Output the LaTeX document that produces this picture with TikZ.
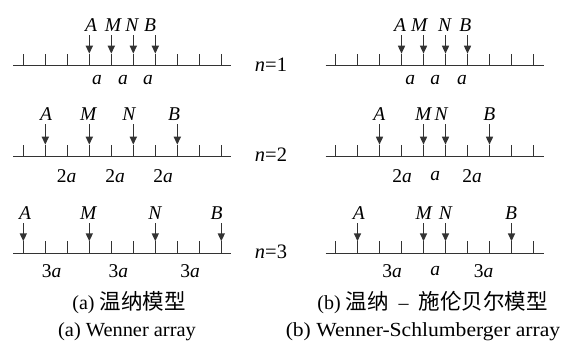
\documentclass[tikz,border=0pt]{standalone}
\usepackage{fontspec}
\setmainfont{Liberation Serif}
\newfontfamily\cjk{Noto Sans CJK SC}
\usetikzlibrary{arrows.meta}
\newcommand\gridrow[3]{%
  \coordinate (#1-L) at ({#2-10},#3);
  \coordinate (#1-R) at ({#2+208},#3);
  \draw[gline] (#1-L) -- (#1-R);
  \foreach \i in {0,...,9}{
    \coordinate (#1-\i) at ({#2+22*\i},#3);
    \coordinate (#1-t\i) at ({#2+22*\i},{#3-12});
    \draw[gline] (#1-\i) -- (#1-t\i);
  }%
}
\newcommand\elec[6]{%
  \node[elab] (#1) at (#5,#6) {#4};
  \pgfmathsetmacro\elecy{#6+10}%
  \coordinate (#1-s) at (#2-#3 |- 0,\elecy);
  \draw[earrow] (#1-s) -- (#2-t#3);
}
\begin{document}
\begin{tikzpicture}[x=1pt,y=-1pt,
  gline/.style={draw=black!80, line width=1.5pt},
  elab/.style={font=\fontsize{19.5}{20}\selectfont\itshape, inner sep=0pt},
  dlab/.style={font=\fontsize{19.5}{20}\selectfont, inner sep=0pt},
  nlab/.style={font=\fontsize{20.5}{21}\selectfont, inner sep=0pt},
  captxt/.style={font=\fontsize{20}{24}\selectfont, inner sep=0pt, anchor=base},
  earrow/.style={gline, -{Triangle[length=8pt,width=7pt]}}
]
\useasboundingbox (0,0) rectangle (564,343);
% left panel
\gridrow{La}{23.3}{65.7}
\gridrow{Lb}{23.3}{156.7}
\gridrow{Lc}{23.3}{253.3}
% right panel
\gridrow{Ra}{335.5}{65.7}
\gridrow{Rb}{335.5}{156.7}
\gridrow{Rc}{335.5}{253.3}
% electrodes, left
\elec{LaA}{La}{3}{A}{91}{25}
\elec{LaM}{La}{4}{M}{113}{25}
\elec{LaN}{La}{5}{N}{132}{25}
\elec{LaB}{La}{6}{B}{150}{25}
\elec{LbA}{Lb}{1}{A}{46}{114}
\elec{LbM}{Lb}{3}{M}{88.3}{114}
\elec{LbN}{Lb}{5}{N}{129}{114}
\elec{LbB}{Lb}{7}{B}{174}{114}
\elec{LcA}{Lc}{0}{A}{25}{213}
\elec{LcM}{Lc}{3}{M}{88.3}{213}
\elec{LcN}{Lc}{6}{N}{155}{213}
\elec{LcB}{Lc}{9}{B}{216.7}{213}
% electrodes, right
\elec{RaA}{Ra}{3}{A}{400}{25}
\elec{RaM}{Ra}{4}{M}{419.3}{25}
\elec{RaN}{Ra}{5}{N}{444.7}{25}
\elec{RaB}{Ra}{6}{B}{465.3}{25}
\elec{RbA}{Rb}{2}{A}{379.3}{114}
\elec{RbM}{Rb}{4}{M}{423.3}{114}
\elec{RbN}{Rb}{5}{N}{441}{114}
\elec{RbB}{Rb}{7}{B}{489.3}{114}
\elec{RcA}{Rc}{1}{A}{358.7}{213}
\elec{RcM}{Rc}{4}{M}{423.7}{213}
\elec{RcN}{Rc}{5}{N}{445.3}{213}
\elec{RcB}{Rc}{8}{B}{511}{213}
% spacing labels, left
\node[dlab] (la1) at (97,80) {\textit{a}};
\node[dlab] (la2) at (123,80) {\textit{a}};
\node[dlab] (la3) at (148,80) {\textit{a}};
\node[dlab] (lb1) at (66.7,176) {2\textit{a}};
\node[dlab] (lb2) at (115,176) {2\textit{a}};
\node[dlab] (lb3) at (163,176) {2\textit{a}};
\node[dlab] (lc1) at (51.7,271) {3\textit{a}};
\node[dlab] (lc2) at (118.3,271) {3\textit{a}};
\node[dlab] (lc3) at (190,271) {3\textit{a}};
% spacing labels, right
\node[dlab] (ra1) at (410.3,80) {\textit{a}};
\node[dlab] (ra2) at (435.3,80) {\textit{a}};
\node[dlab] (ra3) at (462,80) {\textit{a}};
\node[dlab] (rb1) at (402,176) {2\textit{a}};
\node[dlab] (rb2) at (435.3,176) {\textit{a}};
\node[dlab] (rb3) at (472,176) {2\textit{a}};
\node[dlab] (rc1) at (392,271) {3\textit{a}};
\node[dlab] (rc2) at (435.3,271) {\textit{a}};
\node[dlab] (rc3) at (483.7,271) {3\textit{a}};
% n labels
\node[nlab] (n1) at (271,65) {\textit{n}=1};
\node[nlab] (n2) at (271,155) {\textit{n}=2};
\node[nlab] (n3) at (271,252) {\textit{n}=3};
% captions
\node[captxt] (capaz) at (129,309) {(a) {\cjk\fontsize{21.5}{24}\selectfont 温纳模型}};
\node[captxt] (capae) at (127,336) {\scalebox{1.02}[1]{(a) Wenner array}};
\node[captxt] (capbz) at (432.5,309) {(b) {\cjk\fontsize{21.5}{24}\selectfont 温纳}\hspace{10pt}–\hspace{10pt}{\cjk\fontsize{21.5}{24}\selectfont 施伦贝尔模型}};
\node[captxt] (capbe) at (423,336) {\scalebox{1.08}[1]{(b) Wenner-Schlumberger array}};
\end{tikzpicture}
\end{document}
